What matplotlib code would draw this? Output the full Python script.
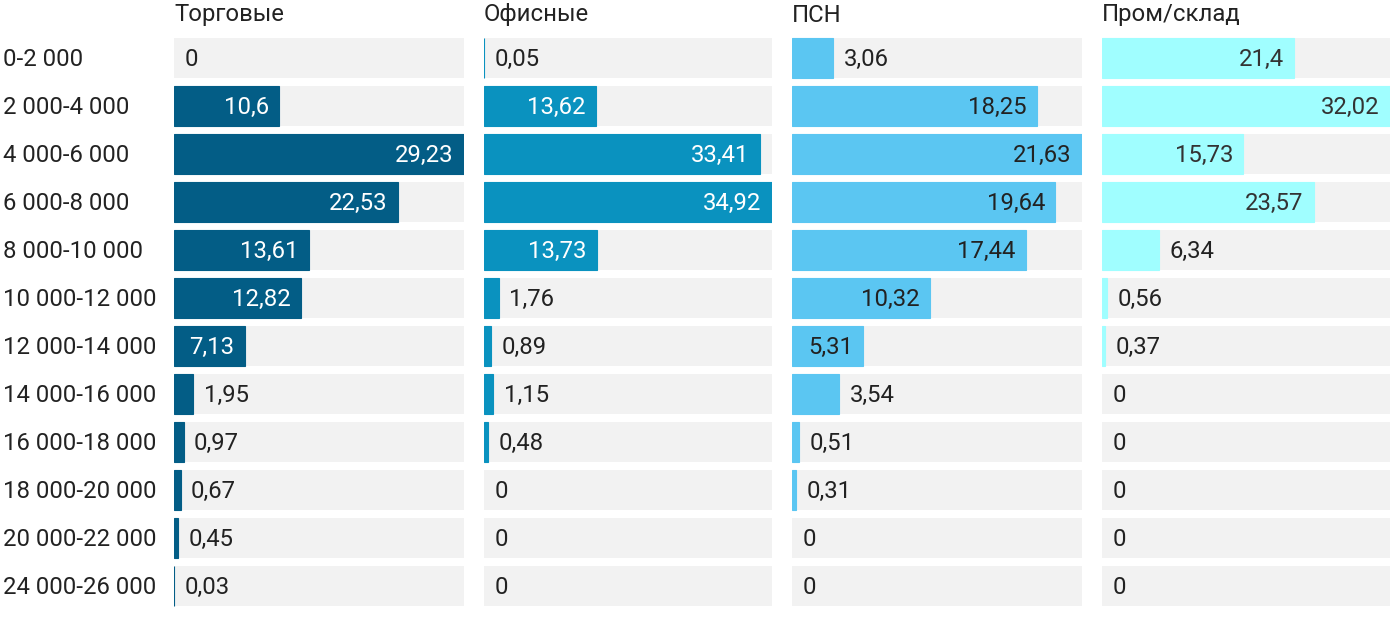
import matplotlib.pyplot as plt

plt.rcParams['font.family'] = ['Roboto', 'DejaVu Sans']

# ranges (rows, top to bottom)
ranges = ['0-2 000', '2 000-4 000', '4 000-6 000', '6 000-8 000', '8 000-10 000',
          '10 000-12 000', '12 000-14 000', '14 000-16 000', '16 000-18 000',
          '18 000-20 000', '20 000-22 000', '24 000-26 000']

titles = ['Торговые', 'Офисные', 'ПСН', 'Пром/склад']

trade = [0, 10.6, 29.23, 22.53, 13.61, 12.82, 7.13, 1.95, 0.97, 0.67, 0.45, 0.03]
office = [0.05, 13.62, 33.41, 34.92, 13.73, 1.76, 0.89, 1.15, 0.48, 0, 0, 0]
psn = [3.06, 18.25, 21.63, 19.64, 17.44, 10.32, 5.31, 3.54, 0.51, 0.31, 0, 0]
industrial = [21.4, 32.02, 15.73, 23.57, 6.34, 0.56, 0.37, 0, 0, 0, 0, 0]

series = [trade, office, psn, industrial]
colors = ['#035d86', '#0a92bf', '#5bc6f2', '#a0feff']
inner_text = ['white', 'white', '#222222', '#333333']
lefts = [174, 484, 792, 1102]
widths = [290, 288, 290, 288]
FS = 17.2

W, H = 1400, 622
fig = plt.figure(figsize=(W / 100, H / 100), dpi=100)
fig.patch.set_facecolor('white')

top_px, bot_px = 34, 610
for i, vals in enumerate(series):
    ax = fig.add_axes([lefts[i] / W, (H - bot_px) / H, widths[i] / W, (bot_px - top_px) / H])
    vmax = max(vals)
    y = list(range(len(ranges)))
    ax.barh(y, [vmax] * len(y), height=40 / 48, color='#f2f2f2', left=0)
    edges = [colors[i] if v > 0 else 'none' for v in vals]
    ax.barh(y, vals, height=40 / 48, color=colors[i], edgecolor=edges, linewidth=0.8)
    for yy, v in zip(y, vals):
        lab = f'{v:g}'.replace('.', ',')
        if v / vmax > 0.22:
            ax.annotate(lab, (v, yy), xytext=(-7.5, -1), textcoords='offset points',
                        ha='right', va='center', fontsize=FS, color=inner_text[i])
        else:
            ax.annotate(lab, (v, yy), xytext=(7.5, -1), textcoords='offset points',
                        ha='left', va='center', fontsize=FS, color='#222222')
    ax.set_xlim(0, vmax)
    ax.set_ylim(len(ranges) - 0.5, -0.5)
    ax.axis('off')
    fig.text(lefts[i] / W, 1 - 15 / H, titles[i], ha='left', va='center',
             fontsize=FS, color='#222222')

for j, r in enumerate(ranges):
    fig.text(3 / W, 1 - (59.5 + 48 * j) / H, r, ha='left', va='center',
             fontsize=FS, color='#222222')

fig.savefig('out.png', dpi=100)
